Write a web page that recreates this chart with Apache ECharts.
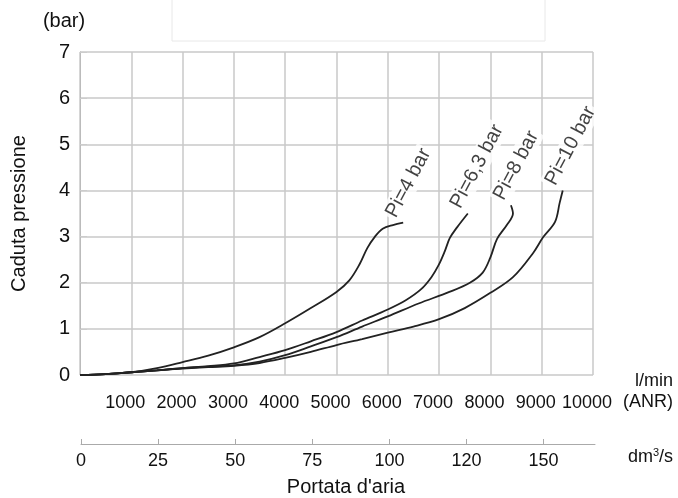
<!DOCTYPE html>
<html>
<head>
<meta charset="utf-8">
<script src="https://cdn.jsdelivr.net/npm/echarts@6/dist/echarts.min.js"></script>
<style>
html,body{margin:0;padding:0;background:#fff;}
#chart{width:678px;height:498px;}
</style>
</head>
<body>
<div id="chart"></div>
<script>
// Flow (l/min ANR) vs pressure drop (bar)
const pi4 = [[0,0],[500,0.02],[1000,0.06],[1500,0.15],[2000,0.28],[2500,0.42],[3000,0.6],[3500,0.82],[4000,1.12],[4500,1.45],[5000,1.8],[5250,2.05],[5450,2.4],[5600,2.75],[5750,3.0],[5900,3.17],[6100,3.25],[6300,3.3]];
const pi63 = [[0,0],[500,0.02],[1000,0.06],[1500,0.1],[2000,0.15],[2500,0.19],[3000,0.25],[3500,0.39],[4000,0.54],[4500,0.73],[5000,0.93],[5500,1.18],[6000,1.42],[6350,1.62],[6650,1.86],[6850,2.12],[6990,2.38],[7110,2.68],[7210,2.97],[7350,3.2],[7560,3.5]];
const pi8 = [[0,0],[500,0.02],[1000,0.06],[1500,0.1],[2000,0.15],[2500,0.18],[3000,0.21],[3500,0.29],[4000,0.43],[4500,0.62],[5000,0.82],[5500,1.05],[6000,1.27],[6600,1.55],[7200,1.8],[7600,2.0],[7850,2.22],[8000,2.55],[8130,2.95],[8320,3.25],[8440,3.5],[8400,3.68]];
const pi10 = [[0,0],[500,0.02],[1000,0.06],[1500,0.1],[2000,0.14],[2500,0.17],[3000,0.2],[3500,0.26],[4000,0.37],[4500,0.5],[5000,0.65],[5500,0.78],[6000,0.92],[6500,1.05],[7000,1.21],[7500,1.45],[8000,1.78],[8440,2.12],[8830,2.64],[9030,2.99],[9260,3.32],[9350,3.73],[9410,4.0]];
const curveLabels = ['Pi=4 bar','Pi=6,3 bar','Pi=8 bar','Pi=10 bar'];
const dm3Ticks = [0,25,50,75,100,125,150];
const dm3Labels = ['0','25','50','75','100','120','150'];
const lminMax = 10000;

const FONT = 'Liberation Sans, Arial, Helvetica, sans-serif';
const TXT = '#111';
const GRIDC = '#c9c9c9';
const curves = [pi4, pi63, pi8, pi10];

const chart = echarts.init(document.getElementById('chart'), null, {renderer:'canvas'});

const lineSeries = curves.map((d, i) => ({
  type:'line', name: curveLabels[i], data: d, xAxisIndex:0, yAxisIndex:0,
  smooth:0.35, showSymbol:false, silent:true,
  lineStyle:{color:'#222', width:1.8}
}));

const labelSeries = {
  type:'scatter', xAxisIndex:0, yAxisIndex:0, silent:true, symbolSize:1,
  itemStyle:{color:'transparent'},
  data: curves.map((d, i) => ({
    value: d[d.length-1],
    label:{show:true, formatter: curveLabels[i]}
  })),
  label:{
    show:true, position:'inside', rotate:62, align:'left', verticalAlign:'middle',
    offset:[-2,-14], fontSize:20, fontFamily:FONT, color:TXT,
    backgroundColor:'#fff', padding:[1,2,1,2]
  }
};

chart.setOption({
  animation:false,
  textStyle:{fontFamily:FONT},
  graphic:[{
    type:'rect', shape:{x:172, y:-1, width:373, height:42},
    style:{fill:'none', stroke:'#e8e8e8', lineWidth:1}, silent:true
  }],
  grid:[
    {left:80, right:85, top:52, bottom:123},
    {left:81, right:83, top:380, bottom:54}
  ],
  xAxis:[
    {
      type:'value', gridIndex:0, position:'bottom', min:0, max:lminMax, interval:1000,
      axisLine:{show:false}, axisTick:{show:false},
      splitLine:{show:true, lineStyle:{color:GRIDC, width:1.5}},
      axisLabel:{fontSize:18, color:TXT, margin:19, padding:[0,12,0,0],
        formatter: v => v === 0 ? '' : String(v)},
      name:'{a|l/min}\n{a|(ANR)}', nameLocation:'end', nameGap:80,
      nameTextStyle:{fontSize:18, color:TXT, align:'right', verticalAlign:'top', padding:[-4,0,0,0],
        rich:{a:{fontSize:18, color:TXT, lineHeight:21, align:'right'}}}
    },
    {
      type:'value', gridIndex:1, position:'bottom', min:0, max:lminMax/60, interval:25,
      axisLine:{show:true, lineStyle:{color:'#aaa', width:1}},
      axisTick:{show:true, inside:true, length:5, lineStyle:{color:'#aaa'}},
      splitLine:{show:false},
      axisLabel:{fontSize:18, color:TXT, margin:8, showMaxLabel:false,
        formatter: v => { const k = dm3Ticks.indexOf(v); return k >= 0 ? dm3Labels[k] : ''; }},
      name:'dm{sup|3}/s', nameLocation:'end', nameGap:33,
      nameTextStyle:{fontSize:18, color:TXT, padding:[26,0,0,0],
        rich:{sup:{fontSize:11, color:TXT, padding:[0,0,8,0]}}}
    },
    {
      type:'value', gridIndex:1, position:'bottom', min:0, max:lminMax/60,
      axisLine:{show:false}, axisTick:{show:false}, axisLabel:{show:false}, splitLine:{show:false},
      name:"Portata d'aria", nameLocation:'middle', nameGap:33,
      nameTextStyle:{fontSize:20, color:TXT, padding:[0,0,0,16]}
    }
  ],
  yAxis:[
    {
      type:'value', gridIndex:0, position:'left', min:0, max:7, interval:1, offset:7,
      axisLine:{show:true, lineStyle:{color:'#bbb', width:1}},
      axisTick:{show:true, inside:true, length:7, lineStyle:{color:'#ccc'}},
      splitLine:{show:true, lineStyle:{color:GRIDC, width:1.5}},
      axisLabel:{fontSize:20, color:TXT, margin:3},
      name:'Caduta pressione', nameLocation:'middle', nameGap:44,
      nameTextStyle:{fontSize:20, color:TXT}
    },
    {
      type:'value', gridIndex:0, position:'left', min:0, max:7, offset:7,
      axisLine:{show:false}, axisTick:{show:false}, axisLabel:{show:false}, splitLine:{show:false},
      name:'(bar)', nameLocation:'end', nameGap:21,
      nameTextStyle:{fontSize:20, color:TXT, padding:[0,18,0,0]}
    },
    {
      type:'value', gridIndex:1, show:false
    }
  ],
  series: lineSeries.concat([labelSeries])
});
</script>
</body>
</html>
